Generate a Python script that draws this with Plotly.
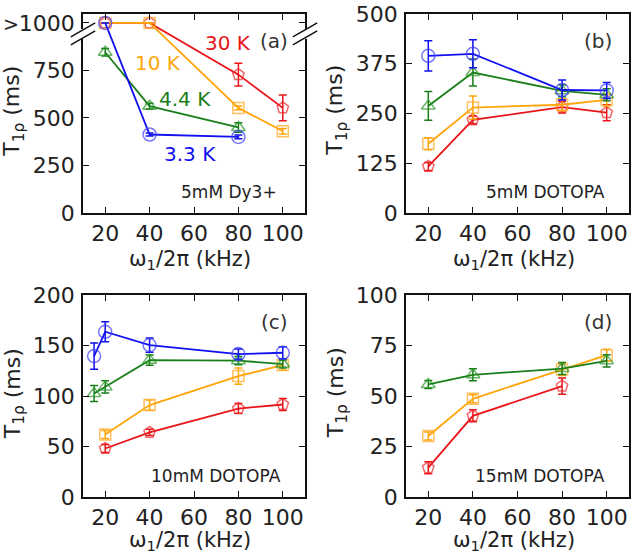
import plotly.graph_objects as go
from plotly.subplots import make_subplots

# ---- data ----
# panel (a) 5mM Dy3+
a_x_33 = [20, 40, 80]
a_y_33 = [1000, 413, 400]
a_e_33 = [0, 8, 10]
a_x_44 = [20, 40, 80]
a_y_44 = [846, 562, 450]
a_e_44 = [20, 15, 25]
a_x_10 = [20, 40, 80, 100]
a_y_10 = [1000, 1000, 553, 430]
a_e_10 = [0, 0, 10, 15]
a_x_30 = [20, 40, 80, 100]
a_y_30 = [1000, 1000, 728, 553]
a_e_30 = [0, 0, 60, 68]

# panel (b) 5mM DOTOPA
b_x = [20, 40, 80, 100]
b_blue = [395, 400, 309, 308]
b_blue_e = [38, 35, 25, 20]
b_green = [269, 353, 307, 297]
b_green_e = [36, 34, 15, 15]
b_orange = [174, 265, 272, 284]
b_orange_e = [15, 29, 15, 15]
b_red = [117, 234, 266, 252]
b_red_e = [10, 10, 15, 20]

# panel (c) 10mM DOTOPA
c_x_blue = [15, 20, 40, 80, 100]
c_blue = [139.5, 163.6, 150.4, 141.5, 142.8]
c_blue_e = [13, 10, 7, 5, 6]
c_x_green = [15, 20, 40, 80, 100]
c_green = [102.5, 109, 135.5, 135, 131.6]
c_green_e = [8, 6, 5, 4, 4]
c_x = [20, 40, 80, 100]
c_orange = [61.8, 91, 119.7, 130.6]
c_orange_e = [4, 5, 8, 5]
c_red = [48, 64, 87.6, 91.6]
c_red_e = [4, 3, 5, 6]

# panel (d) 15mM DOTOPA
d_x = [20, 40, 80, 100]
d_green = [55.7, 60.5, 63.6, 67.4]
d_green_e = [2, 3, 3, 3]
d_orange = [30.2, 48.6, 63.1, 70.2]
d_orange_e = [2, 2, 3, 3]
d_x_red = [20, 40, 80]
d_red = [14.5, 40.2, 54.9]
d_red_e = [3, 3, 4]

x_ticks = [20, 40, 60, 80, 100]

BLUE = "#1010f0"
GREEN = "#1a7f1a"
ORANGE = "#ffa50a"
RED = "#e8141a"
MK = {BLUE: "rgba(60,60,255,0.7)", GREEN: "rgba(40,150,40,0.7)",
      ORANGE: "rgba(255,170,40,0.75)", RED: "rgba(240,40,40,0.7)"}

FONT = "DejaVu Sans"

fig = make_subplots(rows=2, cols=2, horizontal_spacing=0.1, vertical_spacing=0.1)


def add(x, y, e, color, symbol, size, row, col):
    fig.add_trace(go.Scatter(
        x=x, y=y, mode="lines+markers",
        line=dict(color=color, width=1.8),
        marker=dict(symbol=symbol, size=size, color=MK[color],
                    line=dict(color=MK[color], width=1.5)),
        error_y=dict(type="data", array=e, color=color, thickness=1.5, width=4),
        showlegend=False), row=row, col=col)


# (a)
add(a_x_30, a_y_30, a_e_30, RED, "pentagon-open", 12, 1, 1)
add(a_x_10, a_y_10, a_e_10, ORANGE, "square-open", 11, 1, 1)
add(a_x_44, a_y_44, a_e_44, GREEN, "triangle-up-open", 12, 1, 1)
add(a_x_33, a_y_33, a_e_33, BLUE, "circle-open", 13, 1, 1)
# (b)
add(b_x, b_red, b_red_e, RED, "pentagon-open", 12, 1, 2)
add(b_x, b_orange, b_orange_e, ORANGE, "square-open", 11, 1, 2)
add(b_x, b_green, b_green_e, GREEN, "triangle-up-open", 12, 1, 2)
add(b_x, b_blue, b_blue_e, BLUE, "circle-open", 13, 1, 2)
# (c)
add(c_x, c_red, c_red_e, RED, "pentagon-open", 12, 2, 1)
add(c_x, c_orange, c_orange_e, ORANGE, "square-open", 11, 2, 1)
add(c_x_green, c_green, c_green_e, GREEN, "triangle-up-open", 12, 2, 1)
add(c_x_blue, c_blue, c_blue_e, BLUE, "circle-open", 13, 2, 1)
# (d)
add(d_x_red, d_red, d_red_e, RED, "pentagon-open", 12, 2, 2)
add(d_x, d_orange, d_orange_e, ORANGE, "square-open", 11, 2, 2)
add(d_x, d_green, d_green_e, GREEN, "triangle-up-open", 12, 2, 2)

# panel placement (pixel-matched domains)
W, H = 634, 554
xdom_l = [83 / W, 305 / W]
xdom_r = [406 / W, 629 / W]
ydom_t = [1 - 213 / H, 1 - 14 / H]
ydom_b = [1 - 497 / H, 1 - 295 / H]

axis_common = dict(showline=True, linecolor="#111", linewidth=1.6, mirror="ticks",
                   ticks="inside", ticklen=6, tickwidth=1.2, tickcolor="#111",
                   showgrid=False, zeroline=False, automargin=False,
                   tickfont=dict(family=FONT, size=22, color="#222"))

fig.update_xaxes(**axis_common, range=[10, 110], tickvals=x_ticks, ticklabelstandoff=0)
fig.update_yaxes(**axis_common, ticklabelstandoff=2)

fig.update_xaxes(domain=xdom_l, row=1, col=1)
fig.update_xaxes(domain=xdom_r, row=1, col=2)
fig.update_xaxes(domain=xdom_l, row=2, col=1)
fig.update_xaxes(domain=xdom_r, row=2, col=2)

fig.update_yaxes(domain=ydom_t, range=[0, 1047], tickvals=[0, 250, 500, 750, 1000],
                 ticktext=["0", "250", "500", "750",
                           "<span style='font-size:19px'>&gt;</span>1000"], row=1, col=1)
fig.update_yaxes(domain=ydom_t, range=[0, 500], tickvals=[0, 125, 250, 375, 500], row=1, col=2)
fig.update_yaxes(domain=ydom_b, range=[0, 200], tickvals=[0, 50, 100, 150, 200], row=2, col=1)
fig.update_yaxes(domain=ydom_b, range=[0, 100], tickvals=[0, 25, 50, 75, 100], row=2, col=2)

# annotations
ann = []
panels = [("x", "y", "(a)", "5mM Dy3+", 0.883), ("x2", "y2", "(b)", "5mM DOTOPA", 0.90),
          ("x3", "y3", "(c)", "10mM DOTOPA", 0.90), ("x4", "y4", "(d)", "15mM DOTOPA", 0.90)]
for xr, yr, tag, sample, sx in panels:
    ann.append(dict(xref=xr + " domain", yref=yr + " domain", x=0.932, y=0.865,
                    text=tag, showarrow=False, xanchor="right", yanchor="middle",
                    font=dict(family=FONT, size=20, color="#333")))
    ann.append(dict(xref=xr + " domain", yref=yr + " domain", x=sx, y=0.105,
                    text=sample, showarrow=False, xanchor="right", yanchor="middle",
                    font=dict(family=FONT, size=17, color="#222")))

# axis titles
for xdom, ydom, xt_y in ((xdom_l, ydom_t, 260), (xdom_r, ydom_t, 260),
                         (xdom_l, ydom_b, 541), (xdom_r, ydom_b, 541)):
    ann.append(dict(xref="paper", yref="paper", x=(xdom[0] + xdom[1]) / 2 - 0.006,
                    y=1 - xt_y / H, text="ω<sub>1</sub>/2π (kHz)", showarrow=False,
                    xanchor="center", yanchor="middle",
                    font=dict(family=FONT, size=21, color="#222")))
    ann.append(dict(xref="paper", yref="paper", x=xdom[0] - 69 / W,
                    y=(ydom[0] + ydom[1]) / 2 + 0.005, text="T<sub>1ρ</sub> (ms)",
                    showarrow=False, textangle=-90, xanchor="center", yanchor="middle",
                    font=dict(family=FONT, size=22, color="#222")))

temp_labels = [("30 K", RED, 0.54, 0.854), ("10 K", ORANGE, 0.225, 0.754),
               ("4.4 K", GREEN, 0.333, 0.573), ("3.3 K", BLUE, 0.356, 0.296)]
for t, c, xx, yy in temp_labels:
    ann.append(dict(xref="x domain", yref="y domain", x=xx, y=yy, text=t,
                    showarrow=False, xanchor="left", yanchor="middle",
                    font=dict(family=FONT, size=20, color=c)))

# axis-break marks on panel (a)
shapes = []
for xs in (0.0, 1.0):
    shapes.append(dict(type="rect", xref="x domain", yref="y domain",
                       x0=xs - 0.012, x1=xs + 0.012, y0=0.875, y1=0.925,
                       fillcolor="white", line=dict(width=0), layer="above"))
    for yc in (0.88, 0.92):
        shapes.append(dict(type="line", xref="x domain", yref="y domain",
                           x0=xs - 0.055, x1=xs + 0.055, y0=yc - 0.035, y1=yc + 0.035,
                           line=dict(color="#111", width=1.5), layer="above"))

fig.update_layout(width=W, height=H, margin=dict(l=0, r=0, t=0, b=0),
                  plot_bgcolor="white", paper_bgcolor="white",
                  annotations=ann, shapes=shapes)

# drop the browser's default 8px body margin so the figure sits at (0, 0)
fig.write_html("out.html", config={"displayModeBar": False},
               post_script="document.body.style.margin='0';")
